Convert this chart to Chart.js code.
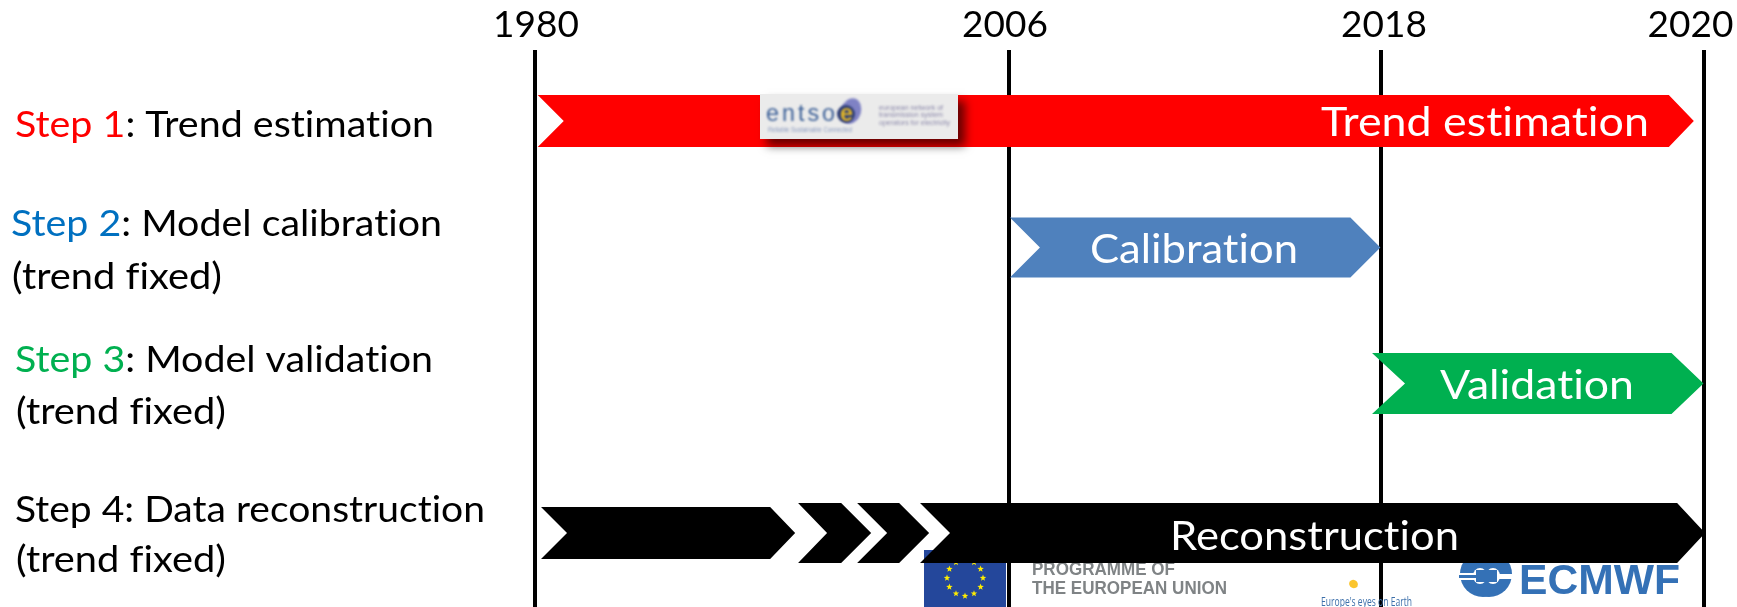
<!DOCTYPE html>
<html><head><meta charset="utf-8">
<style>html,body{margin:0;padding:0;background:#fff}canvas{display:block}</style>
<script src="https://cdn.jsdelivr.net/npm/chart.js@4/dist/chart.umd.js"></script>
</head><body><canvas id="c" width="1737" height="607"></canvas>
<script>
// ---- data ----
const yearTicks = [1980, 2006, 2018, 2020];
const rows = [1, 2, 3, 4];
const trendSpan = [1980.15, 2019.94];
const calibrationSpan = [2006.03, 2017.98];
const validationSpan = [2017.71, 2020.0];
const reconFirstSpan = [1980.33, 1994.27];
const reconSecondSpan = [1994.43, 1998.44];
const reconThirdSpan = [1997.67, 2001.62];
const reconFinalSpan = [2001.12, 2020.01];
const barNames = ['Trend estimation', 'Calibration', 'Validation', 'Reconstruction'];
const stepNames = ['Step 1', 'Step 2', 'Step 3', 'Step 4'];
const stepTexts = [': Trend estimation', ': Model calibration', ': Model validation', ': Data reconstruction'];
const fixedNote = '(trend fixed)';

// ---- schematic axis: the reference spaces its years unevenly ----
const yearPixels = [535, 1009, 1381, 1703.5];
class AnchoredScale extends Chart.LinearScale {
  static id = 'anchored';
  static defaults = Chart.LinearScale.defaults;
  getPixelForValue(v) {
    const a = this.options.anchors;
    let i = 0;
    while (i < a.length - 2 && v > a[i + 1][0]) i++;
    const [v0, p0] = a[i], [v1, p1] = a[i + 1];
    return p0 + (v - v0) / (v1 - v0) * (p1 - p0);
  }
  buildTicks() { return this.options.anchors.map(a => ({ value: a[0] })); }
  _computeLabelItems(area) {
    const items = super._computeLabelItems(area);
    const nudge = this.options.labelNudge || [];
    items.forEach((it, i) => { it.options.translation[0] += nudge[i] || 0; });
    return items;
  }
}
Chart.register(AnchoredScale);

function fitText(ctx, segs, x, base, width, font, spacing) {
  ctx.save();
  ctx.font = font;
  ctx.textAlign = 'left';
  ctx.textBaseline = 'alphabetic';
  ctx.textRendering = 'optimizeSpeed';
  ctx.letterSpacing = spacing || '0.01px';
  const total = segs.reduce((s, g) => s + ctx.measureText(g[0]).width, 0);
  ctx.translate(x, base);
  ctx.scale(width / total, 1);
  let cx = 0;
  for (const [t, col] of segs) {
    ctx.fillStyle = col;
    ctx.fillText(t, cx, 0);
    cx += ctx.measureText(t).width;
  }
  ctx.restore();
}

function drawBottomLogos(ctx) {
  // EU flag
  ctx.save();
  ctx.fillStyle = '#24479b';
  ctx.fillRect(924, 550, 82, 57);
  ctx.fillStyle = '#ffed00';
  for (let k = 0; k < 12; k++) {
    const a = k * Math.PI / 6;
    const cx = 965 + 18 * Math.cos(a), cy = 578 + 18 * Math.sin(a);
    ctx.beginPath();
    for (let s = 0; s < 10; s++) {
      const r = s % 2 ? 1.4 : 3.4, b = -Math.PI / 2 + s * Math.PI / 5;
      ctx.lineTo(cx + r * Math.cos(b), cy + r * Math.sin(b));
    }
    ctx.closePath();
    ctx.fill();
  }
  ctx.restore();
  fitText(ctx, [['PROGRAMME OF', '#7f8385']], 1032, 575, 143, 'bold 18px "Liberation Sans"');
  fitText(ctx, [['THE EUROPEAN UNION', '#7f8385']], 1032, 594, 195, 'bold 18px "Liberation Sans"');
  // Copernicus
  ctx.fillStyle = '#fbc52d';
  ctx.beginPath(); ctx.ellipse(1353.5, 584, 4.5, 4, 0.5, 0, 2 * Math.PI); ctx.fill();
  fitText(ctx, [["Europe's eyes on Earth", '#3c6faa']], 1321, 606, 91, '13px "Open Sans"');
  // ECMWF
  ctx.save();
  ctx.fillStyle = '#3471b6';
  ctx.beginPath(); ctx.arc(1483, 574, 23, 0, 2 * Math.PI); ctx.fill();
  ctx.beginPath(); ctx.arc(1489, 574, 23, 0, 2 * Math.PI); ctx.fill();
  ctx.fillStyle = '#fff';
  ctx.beginPath(); ctx.ellipse(1480, 576, 7, 8, 0, 0, 2 * Math.PI); ctx.fill();
  ctx.beginPath(); ctx.ellipse(1493, 576, 7, 8, 0, 0, 2 * Math.PI); ctx.fill();
  ctx.fillRect(1459, 573, 22, 2);
  ctx.fillRect(1459, 578, 22, 2);
  ctx.fillRect(1493, 574, 20, 5);
  ctx.fillStyle = '#3471b6';
  ctx.fillRect(1476, 570, 21, 12);
  ctx.fillRect(1459, 575, 24, 3);
  ctx.restore();
  fitText(ctx, [['ECMWF', '#3471b6']], 1519, 594, 161, 'bold 42.6px "Liberation Sans"');
}

function drawEntsoLogo(ctx) {
  ctx.save();
  ctx.shadowColor = 'rgba(0,0,0,0.6)';
  ctx.shadowBlur = 9;
  ctx.shadowOffsetX = 7;
  ctx.shadowOffsetY = 7;
  ctx.fillStyle = '#ebebeb';
  ctx.fillRect(760, 94, 198, 45);
  ctx.restore();
  ctx.save();
  ctx.filter = 'blur(0.8px)';
  ctx.fillStyle = '#7f82c4';
  ctx.beginPath(); ctx.ellipse(851, 111, 10, 13, 0.3, 0, 2 * Math.PI); ctx.fill();
  ctx.fillStyle = '#2f3f78';
  ctx.beginPath(); ctx.arc(846, 114, 9, 0, 2 * Math.PI); ctx.fill();
  fitText(ctx, [['entso', '#3b5f97']], 766, 121, 72, '23px "Liberation Sans"', '3px');
  fitText(ctx, [['e', '#e0b428']], 840, 121, 13, 'bold 23px "Liberation Sans"');
  fitText(ctx, [['Reliable Sustainable Connected', '#8c9cc0']], 768, 132, 84, '7px "Liberation Sans"');
  fitText(ctx, [['european network of', '#8d8aab']], 879, 110, 64, '8px "Liberation Sans"');
  fitText(ctx, [['transmission system', '#8d8aab']], 879, 117, 64, '8px "Liberation Sans"');
  fitText(ctx, [['operators for electricity', '#8d8aab']], 879, 125, 71, '8px "Liberation Sans"');
  ctx.restore();
}

const chevronPlugin = {
  id: 'chevrons',
  beforeDatasetsDraw(chart) { drawBottomLogos(chart.ctx); },
  beforeDatasetDraw(chart, args) {
    const ctx = chart.ctx, ds = chart.data.datasets[args.index];
    for (const el of args.meta.data) {
      const { x, y, base, height } = el.getProps(['x', 'y', 'base', 'height']);
      const t = y - height / 2, b = y + height / 2;
      ctx.save();
      ctx.fillStyle = el.options.backgroundColor;
      ctx.beginPath();
      ctx.moveTo(base, t);
      ctx.lineTo(x - ds.tipDepth, t);
      ctx.lineTo(x, y);
      ctx.lineTo(x - ds.tipDepth, b);
      ctx.lineTo(base, b);
      ctx.lineTo(base + ds.notchDepth, y);
      ctx.closePath();
      ctx.fill();
      ctx.restore();
    }
    return false;
  },
  afterDatasetsDraw(chart) {
    const ctx = chart.ctx;
    for (const ds of chart.data.datasets) {
      if (ds.textBox) fitText(ctx, [[ds.label, '#fff']], ds.textBox[0], ds.textBox[1], ds.textBox[2], '40px Lato');
    }
    drawEntsoLogo(ctx);
    const f = '36px Lato';
    fitText(ctx, [[stepNames[0], '#ff0000'], [stepTexts[0], '#000']], 15, 137, 419, f);
    fitText(ctx, [[stepNames[1], '#0070c0'], [stepTexts[1], '#000']], 11, 236, 431, f);
    fitText(ctx, [[fixedNote, '#000']], 12, 289, 210, f);
    fitText(ctx, [[stepNames[2], '#00b050'], [stepTexts[2], '#000']], 15, 372, 418, f);
    fitText(ctx, [[fixedNote, '#000']], 16, 424, 210, f);
    fitText(ctx, [[stepNames[3], '#000'], [stepTexts[3], '#000']], 15, 522, 470, f);
    fitText(ctx, [[fixedNote, '#000']], 16, 572, 210, f);
  }
};

const bar = (label, span, row, color, thick, notch, tip, textBox) => ({
  label, data: [{ x: span, y: row }], backgroundColor: color,
  barThickness: thick, notchDepth: notch, tipDepth: tip, textBox
});

new Chart(document.getElementById('c'), {
  type: 'bar',
  plugins: [chevronPlugin],
  data: {
    datasets: [
      bar(barNames[0], trendSpan, rows[0], '#ff0000', 52, 26, 25, [1321, 136, 328]),
      bar(barNames[1], calibrationSpan, rows[1], '#4f81bd', 60, 30, 30, [1090, 263, 208]),
      bar(barNames[2], validationSpan, rows[2], '#00b050', 61, 33, 32, [1440, 399, 194]),
      bar('Reconstruction (phase 1)', reconFirstSpan, rows[3], '#000', 52, 26, 25),
      bar('Reconstruction (phase 2)', reconSecondSpan, rows[3], '#000', 60, 29, 30),
      bar('Reconstruction (phase 3)', reconThirdSpan, rows[3], '#000', 60, 30, 30),
      bar(barNames[3], reconFinalSpan, rows[3], '#000', 60, 30, 28, [1170, 550, 289])
    ]
  },
  options: {
    indexAxis: 'y',
    responsive: false,
    animation: false,
    devicePixelRatio: 1,
    layout: { padding: 0 },
    datasets: { bar: { grouped: false } },
    plugins: { legend: { display: false }, tooltip: { enabled: false }, title: { display: false } },
    scales: {
      x: {
        type: 'anchored', position: 'top', min: 1980, max: 2020,
        anchors: yearTicks.map((y, i) => [y, yearPixels[i]]),
        labelNudge: [1, -4, 3, -13],
        afterFit(s) { s.height = 50; s.paddingLeft = 0; s.paddingRight = 0; },
        border: { display: false },
        grid: { color: '#000', lineWidth: 4, drawTicks: false, tickLength: 0 },
        ticks: {
          color: '#000', padding: 3, autoSkip: false, maxRotation: 0, minRotation: 0,
          font: { family: 'Lato', size: 37 }, callback: v => String(v)
        }
      },
      y: {
        type: 'anchored', display: false, min: 1, max: 4,
        anchors: [[1, 121], [2, 247.5], [3, 383.5], [4, 533]]
      }
    }
  }
});
</script></body></html>
